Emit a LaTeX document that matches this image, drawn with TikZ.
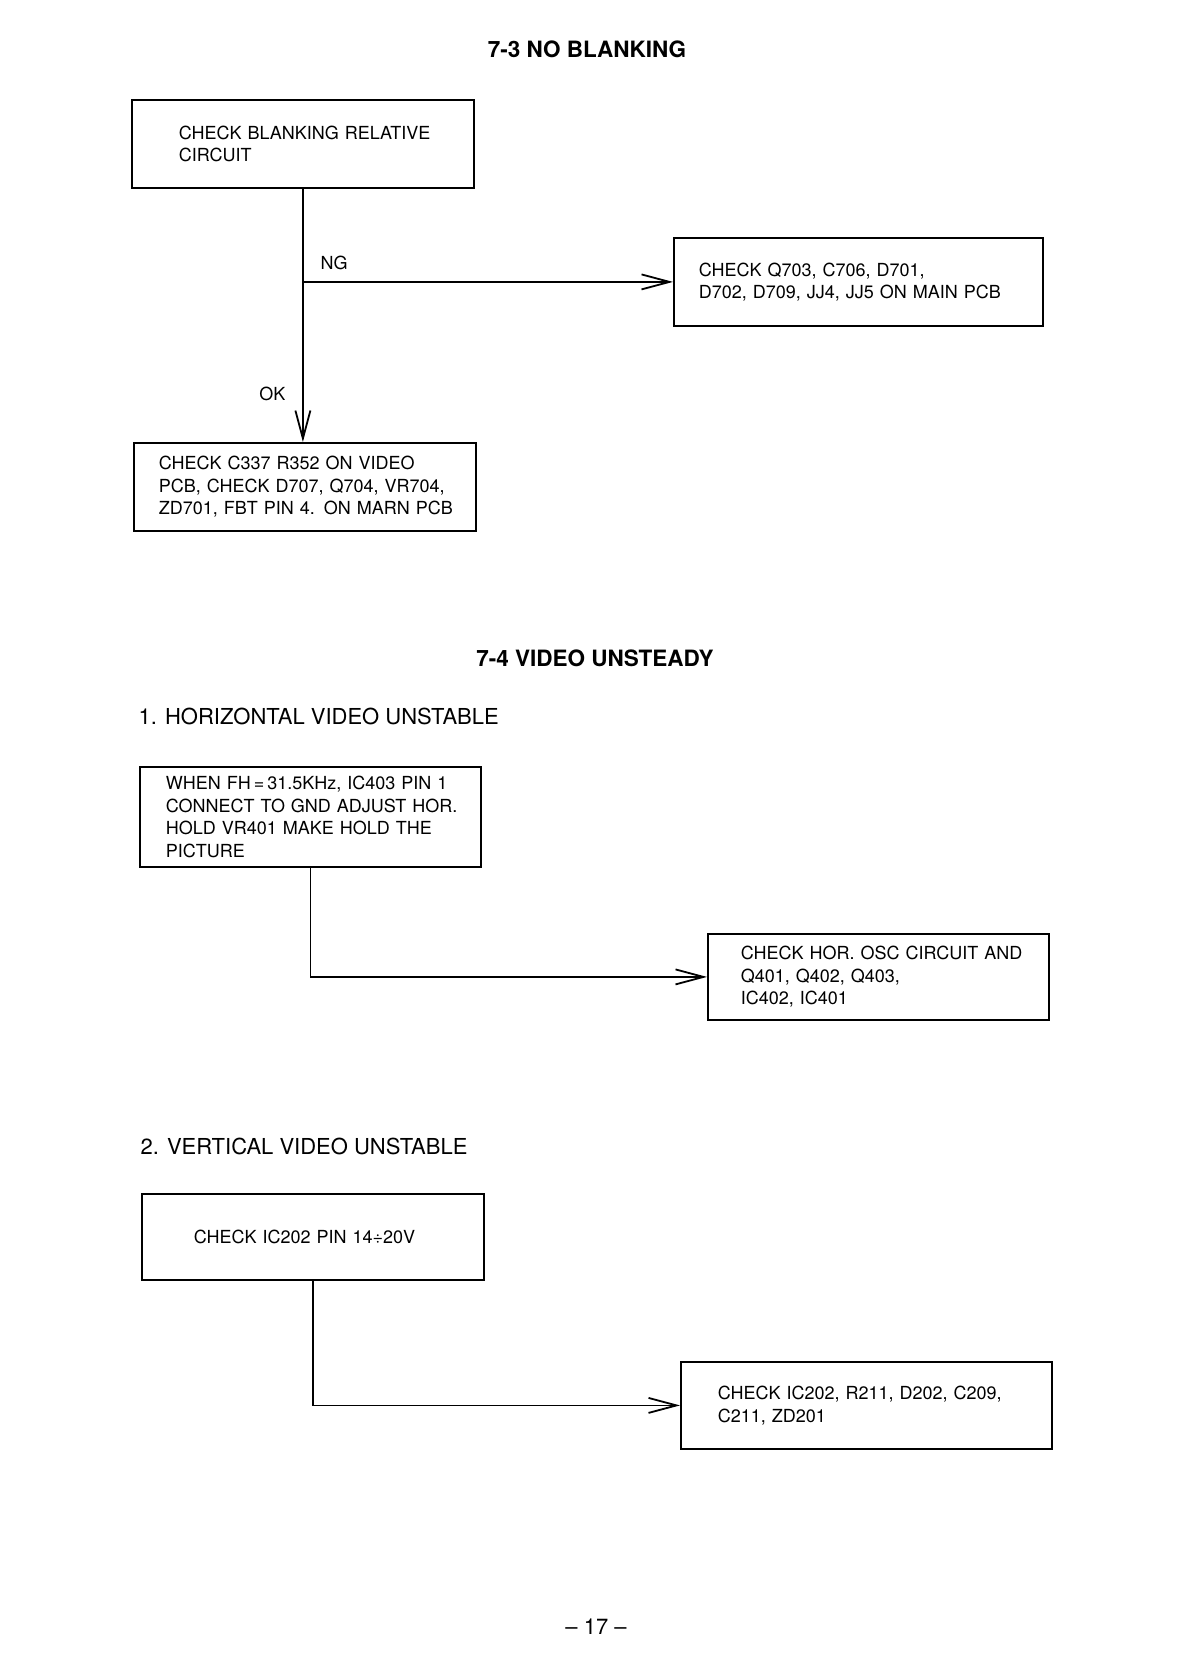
\documentclass[tikz,border=0pt]{standalone}
\usepackage{fontspec}
\setmainfont{TeX Gyre Heros}
\usetikzlibrary{arrows.meta}

\begin{document}
\begin{tikzpicture}[x=1pt, y=-1pt,
    chk/.style={draw, line width=1.8pt, anchor=north west, align=left,
      font=\fontsize{18}{22.4}\selectfont,
      execute at begin node={\rightskip=0pt plus 1fil minus 40pt}},
    ttl/.style={font=\bfseries\fontsize{22.5}{26}\selectfont},
    hdg/.style={anchor=west, font=\fontsize{22}{26}\selectfont},
    lbl/.style={font=\fontsize{18}{22}\selectfont},
    flow/.style={line width=1.8pt, -{Straight Barb[length=28pt,width=15pt]}}]
    \useasboundingbox (0,0) rectangle (1183,1674);

    \node[ttl] (t73) at (587,49) {7-3 NO BLANKING};
    \node[chk, text width=248pt, inner xsep=47pt, minimum height=88pt] (blank) at (131,99)
        {CHECK BLANKING RELATIVE\\CIRCUIT};
    \node[chk, text width=319pt, inner xsep=25pt, minimum height=88pt] (ngbox) at (673,237)
        {CHECK Q703, C706, D701,\\D702, D709, JJ4, JJ5 ON MAIN PCB};
    \node[chk, text width=292pt, inner xsep=25pt, minimum height=88pt] (okbox) at (133,442)
        {CHECK C337 R352 ON VIDEO\\PCB, CHECK D707, Q704, VR704,\\ZD701, FBT PIN 4. ON MARN PCB};
    \coordinate (ngpt) at (blank.south |- ngbox.west);
    \draw[flow] (blank.south) -- (blank.south |- okbox.north);
    \draw[flow] (ngpt) -- (ngbox);
    \node[lbl, anchor=west] (ng) at (317,263) {NG};
    \node[lbl, anchor=east] (ok) at (289,394) {OK};

    \node[ttl] (t74) at (595,658) {7-4 VIDEO UNSTEADY};
    \node[hdg] (hor) at (135,716) {1. HORIZONTAL VIDEO UNSTABLE};
    \node[chk, text width=289pt, inner xsep=26pt, minimum height=100pt] (fh) at (139,766)
        {WHEN FH\,=\,31.5KHz, IC403 PIN 1\\CONNECT TO GND ADJUST HOR.\\HOLD VR401 MAKE HOLD THE\\PICTURE};
    \node[chk, text width=275pt, inner xsep=33pt, minimum height=86pt] (osc) at (707,933)
        {CHECK HOR. OSC CIRCUIT AND\\Q401, Q402, Q403,\\IC402, IC401};
    \draw[flow] (fh) |- (osc);

    \node[hdg] (ver) at (137,1146) {2. VERTICAL VIDEO UNSTABLE};
    \node[chk, text width=238pt, inner xsep=52pt, minimum height=86pt] (pin) at (141,1193)
        {CHECK IC202 PIN 14÷20V};
    \node[chk, text width=297pt, inner xsep=37pt, minimum height=87pt] (vchk) at (680,1361)
        {CHECK IC202, R211, D202, C209,\\C211, ZD201};
    \draw[flow] (pin) |- (vchk);

    \node[font=\fontsize{22}{26}\selectfont] (pg) at (596,1627) {-- 17 --};
\end{tikzpicture}
\end{document}
